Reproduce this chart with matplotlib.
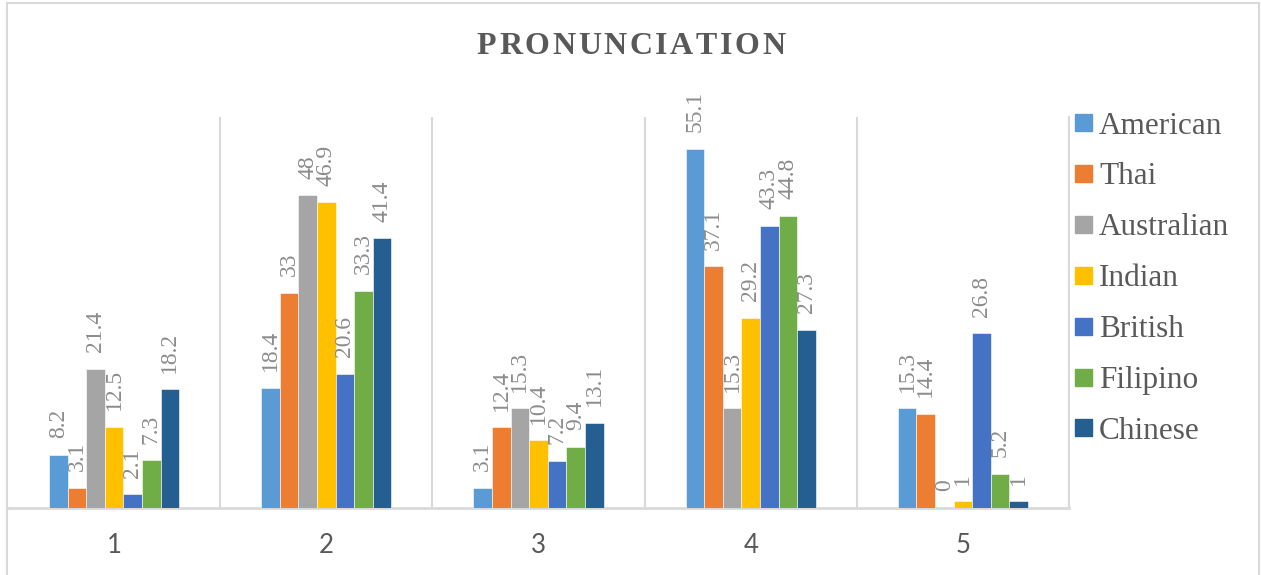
#!/usr/bin/env python3
"""Grouped bar chart of pronunciation ratings per accent."""
import matplotlib

matplotlib.use("Agg", force=True)
import matplotlib.pyplot as plt
import numpy as np
from matplotlib.patches import Rectangle


CATEGORIES = ["1", "2", "3", "4", "5"]
SERIES = ["American", "Thai", "Australian", "Indian", "British", "Filipino", "Chinese"]
COLORS = ["#5B9BD5", "#ED7D31", "#A5A5A5", "#FFC000", "#4472C4", "#70AD47", "#255E91"]

american = [8.2, 18.4, 3.1, 55.1, 15.3]
thai = [3.1, 33, 12.4, 37.1, 14.4]
australian = [21.4, 48, 15.3, 15.3, 0]
indian = [12.5, 46.9, 10.4, 29.2, 1]
british = [2.1, 20.6, 7.2, 43.3, 26.8]
filipino = [7.3, 33.3, 9.4, 44.8, 5.2]
chinese = [18.2, 41.4, 13.1, 27.3, 1]

VALUES = [american, thai, australian, indian, british, filipino, chinese]

W, H = 1261, 575
GRID = "#D9D9D9"
TEXT = "#595959"
LABEL = "#8C8C8C"
SERIF = "Liberation Serif"


def fx(px):
    return px / W


def fy(py):
    return 1 - py / H


def spaced_text(fig, text, x_center, y_base, spacing_px, **kw):
    # draw letters one by one so the title gets extra tracking
    renderer = fig.canvas.get_renderer()
    widths = []
    for ch in text:
        t = fig.text(0, 0, ch, **kw)
        widths.append(t.get_window_extent(renderer).width)
        t.remove()
    total = sum(widths) + spacing_px * (len(text) - 1)
    x = x_center - total / 2
    for ch, w in zip(text, widths):
        fig.text(fx(x), y_base, ch, ha="left", va="baseline", **kw)
        x += w + spacing_px


fig = plt.figure(figsize=(W / 100, H / 100), dpi=100)

# plot area: x 8..1069 px, y 117..508 px
ax = fig.add_axes([fx(8), fy(508), fx(1069) - fx(8), fy(117) - fy(508)])

n = len(SERIES)
bar_w = 0.0876
x = np.arange(len(CATEGORIES))
for i, (name, vals, col) in enumerate(zip(SERIES, VALUES, COLORS)):
    pos = x + (i - (n - 1) / 2) * bar_w
    bars = ax.bar(pos, vals, width=bar_w, color=col, edgecolor="white",
                  linewidth=0.4, zorder=3)
    for b, v in zip(bars, vals):
        ax.annotate(f"{v:g}", (b.get_x() + b.get_width() / 2, v),
                    xytext=(0, 12), textcoords="offset points",
                    rotation=90, ha="center", va="bottom",
                    fontsize=17, color=LABEL, family=SERIF)

ax.set_xlim(-0.5, len(CATEGORIES) - 0.5)
ax.set_ylim(0, 60)
ax.set_yticks([])
ax.set_xticks(x)
ax.set_xticklabels(CATEGORIES, fontsize=18.5, color=TEXT, family="Lato")
ax.tick_params(axis="x", length=0, pad=18)

# category separators
for b in np.arange(0.5, len(CATEGORIES) - 0.5 + 1e-9, 1.0):
    ax.axvline(b, color=GRID, lw=1.5, zorder=1)

for side in ["top", "left"]:
    ax.spines[side].set_visible(False)
ax.spines["right"].set_color(GRID)
ax.spines["right"].set_linewidth(1.5)
ax.spines["bottom"].set_color(GRID)
ax.spines["bottom"].set_linewidth(2)

# chart border
fig.patches.append(Rectangle((fx(7), fy(590)), fx(1259) - fx(7), fy(3) - fy(590),
                             transform=fig.transFigure, fill=False,
                             edgecolor=GRID, lw=1.5))

spaced_text(fig, "PRONUNCIATION", 631, fy(54), 2.6,
            fontsize=23, fontweight="bold", color=TEXT, family=SERIF)

# legend
for i, (name, col) in enumerate(zip(SERIES, COLORS)):
    cy = 122.5 + i * 50.9
    fig.patches.append(Rectangle((fx(1075), fy(cy + 8.5)), fx(17), 17 / H,
                                 transform=fig.transFigure, color=col))
    fig.text(fx(1099), fy(cy), name, ha="left", va="center_baseline",
             fontsize=22.5, color=TEXT, family=SERIF)

fig.savefig("out.png", dpi=100)
